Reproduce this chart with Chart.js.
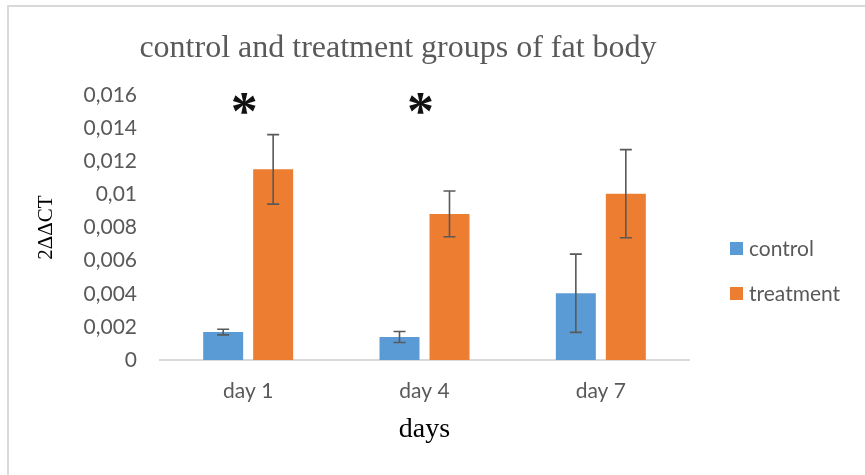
<!DOCTYPE html>
<html>
<head>
<meta charset="utf-8">
<script src="https://cdn.jsdelivr.net/npm/chart.js@4/dist/chart.umd.min.js"></script>
<style>
  html, body { margin: 0; padding: 0; background: #fff; overflow: hidden; }
  #wrap { position: relative; width: 865px; height: 475px; }
  #frame { position: absolute; left: 7px; top: 5px; width: 900px; height: 500px; border: 2px solid #d9d9d9; box-sizing: border-box; }
  #chart { position: absolute; left: 0; top: 0; }
</style>
</head>
<body>
<div id="wrap">
  <div id="frame"></div>
  <canvas id="chart" width="865" height="475"></canvas>
</div>
<script>
// fat body: 2^ΔΔCT per day, control vs treatment, with error bars and significance stars

const days = ['day 1', 'day 4', 'day 7'];
const controlMean = [0.00169, 0.00139, 0.00403];
const controlErr = [0.00017, 0.00033, 0.00236];
const treatmentMean = [0.01151, 0.00882, 0.01004];
const treatmentErr = [0.00210, 0.00138, 0.00266];
const yTickLabels = ['0', '0,002', '0,004', '0,006', '0,008', '0,01', '0,012', '0,014', '0,016'];
const starDays = ['day 1', 'day 4'];
const starLevel = 0.0155;

const TICK_FONT = { family: 'Lato', size: 21 };
const GREY = '#595959';

const errorBars = {
  id: 'errorBars',
  afterDatasetsDraw(chart) {
    const { ctx, scales: { y } } = chart;
    const errs = [controlErr, treatmentErr];
    ctx.save();
    ctx.strokeStyle = GREY;
    ctx.lineWidth = 1.6;
    chart.data.datasets.forEach((ds, di) => {
      const meta = chart.getDatasetMeta(di);
      meta.data.forEach((bar, i) => {
        const v = ds.data[i], e = errs[di][i];
        const top = y.getPixelForValue(v + e);
        const bot = y.getPixelForValue(v - e);
        ctx.beginPath();
        ctx.moveTo(bar.x, top); ctx.lineTo(bar.x, bot);
        ctx.moveTo(bar.x - 6, top); ctx.lineTo(bar.x + 6, top);
        ctx.moveTo(bar.x - 6, bot); ctx.lineTo(bar.x + 6, bot);
        ctx.stroke();
      });
    });
    ctx.restore();
  },
};

const decorations = {
  id: 'decorations',
  afterDraw(chart) {
    const { ctx, scales: { x, y } } = chart;
    ctx.save();
    // title
    ctx.fillStyle = GREY;
    ctx.font = '32px "Liberation Serif"';
    ctx.textAlign = 'center';
    ctx.textBaseline = 'middle';
    ctx.fillText('control and treatment groups of fat body', 398, 49);
    // significance stars, centred on their glyph box
    ctx.fillStyle = '#111';
    ctx.font = 'bold 54px "Liberation Serif"';
    ctx.textBaseline = 'alphabetic';
    const m = ctx.measureText('*');
    const mid = (m.actualBoundingBoxAscent - m.actualBoundingBoxDescent) / 2;
    for (const d of starDays) {
      ctx.fillText('*', x.getPixelForValue(days.indexOf(d)) - 4, y.getPixelForValue(starLevel) + mid);
    }
    // legend
    ctx.textAlign = 'left';
    ctx.textBaseline = 'middle';
    ctx.font = '21px Lato';
    chart.data.datasets.forEach((ds, i) => {
      const cy = 249 + i * 45;
      ctx.fillStyle = ds.backgroundColor;
      ctx.fillRect(730, cy - 7, 13, 13);
      ctx.fillStyle = GREY;
      ctx.fillText(ds.label, 749, cy);
    });
    ctx.restore();
  },
};

new Chart(document.getElementById('chart').getContext('2d'), {
  type: 'bar',
  data: {
    labels: days,
    datasets: [
      { label: 'control', data: controlMean, backgroundColor: '#5b9bd5' },
      { label: 'treatment', data: treatmentMean, backgroundColor: '#ed7d31' },
    ],
  },
  options: {
    responsive: false,
    animation: false,
    devicePixelRatio: 1,
    barPercentage: 0.8,
    categoryPercentage: 0.567,
    layout: { padding: { top: 95, right: 176, left: 0, bottom: 0 } },
    plugins: {
      legend: { display: false },
      tooltip: { enabled: false },
    },
    scales: {
      x: {
        grid: { display: false, drawTicks: false },
        border: { display: true, color: '#d9d9d9', width: 2 },
        ticks: { font: TICK_FONT, color: GREY, padding: 19 },
        title: {
          display: true, text: 'days', color: '#000',
          font: { family: 'Liberation Serif', size: 28 },
          padding: { top: 0, bottom: 29 },
        },
        afterFit: s => { s.height = 115; },
      },
      y: {
        min: 0, max: 0.016,
        grid: { display: false, drawTicks: false },
        border: { display: false },
        ticks: {
          stepSize: 0.002, font: TICK_FONT, color: GREY, padding: 23,
          callback: (v, i) => yTickLabels[i],
        },
        title: {
          display: true, text: '2ΔΔCT', color: '#000',
          font: { family: 'Liberation Serif', size: 21 },
          padding: { top: 34, bottom: 0 },
        },
        afterFit: s => { s.width = 160; },
      },
    },
  },
  plugins: [errorBars, decorations],
});
</script>
</body>
</html>
